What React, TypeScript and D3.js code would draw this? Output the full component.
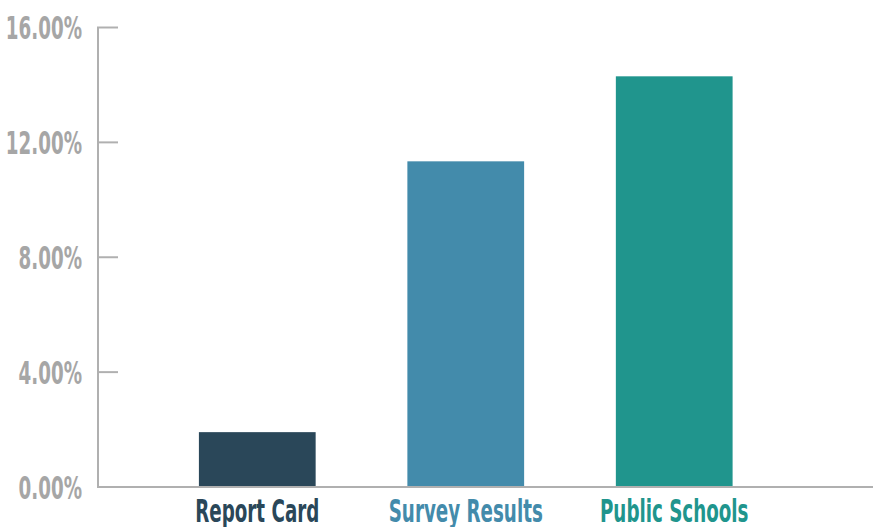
import React, { useRef, useEffect } from 'react';
import * as d3 from 'd3';

// values (percent)
const categories = ['Report Card', 'Survey Results', 'Public Schools'];
const values = [1.91, 11.34, 14.3];
const colors = ['#2a4759', '#438bab', '#20958d'];
const yTicks = [0, 4, 8, 12, 16];

const width = 873;
const height = 527;
const FONT = "'DejaVu Sans Condensed', 'DejaVu Sans', sans-serif";
// the reference uses a very narrow face, so squeeze the glyphs
const squeeze = 0.635;

const App = () => {
    const ref = useRef<SVGSVGElement | null>(null);

    useEffect(() => {
        if (!ref.current) return;
        const svg = d3.select(ref.current);
        svg.selectAll('*').remove();

        const x = d3.scaleBand<string>()
            .domain(categories)
            .range([98, 833.5])
            .paddingInner(0.44)
            .paddingOuter(0.484);

        const y = d3.scaleLinear().domain([0, 16]).range([487, 27.5]);

        // bars
        svg.selectAll('rect.bar')
            .data(values)
            .enter()
            .append('rect')
            .attr('class', 'bar')
            .attr('x', (_, i) => x(categories[i]) as number)
            .attr('y', d => y(d))
            .attr('width', x.bandwidth())
            .attr('height', d => y(0) - y(d))
            .style('fill', (_, i) => colors[i]);

        // y axis line + ticks
        const axisColor = '#b0b0b0';
        svg.append('line')
            .attr('x1', 98).attr('x2', 98)
            .attr('y1', y(16)).attr('y2', y(0))
            .attr('stroke', axisColor).attr('stroke-width', 2);

        svg.selectAll('line.tick')
            .data(yTicks.filter(t => t > 0))
            .enter()
            .append('line')
            .attr('class', 'tick')
            .attr('x1', 97).attr('x2', 118)
            .attr('y1', d => y(d)).attr('y2', d => y(d))
            .attr('stroke', axisColor).attr('stroke-width', 2);

        // baseline
        svg.append('line')
            .attr('x1', 97).attr('x2', width)
            .attr('y1', y(0)).attr('y2', y(0))
            .attr('stroke', axisColor).attr('stroke-width', 2);

        const squash = (sel: d3.Selection<SVGTextElement, any, any, any>) => {
            sel.each(function () {
                const w = this.getComputedTextLength();
                d3.select(this)
                    .attr('textLength', w * squeeze)
                    .attr('lengthAdjust', 'spacingAndGlyphs');
            });
        };

        // tick labels
        svg.selectAll('text.ylabel')
            .data(yTicks)
            .enter()
            .append('text')
            .attr('class', 'ylabel')
            .attr('x', 82)
            .attr('y', d => y(d))
            .attr('dy', '0.36em')
            .attr('text-anchor', 'end')
            .style('font-family', FONT)
            .style('font-weight', 'bold')
            .style('font-size', '32px')
            .style('fill', '#a6a6a6')
            .text(d => d3.format('.2f')(d) + '%')
            .call(squash);

        // category labels
        svg.selectAll('text.xlabel')
            .data(categories)
            .enter()
            .append('text')
            .attr('class', 'xlabel')
            .attr('x', d => (x(d) as number) + x.bandwidth() / 2)
            .attr('y', 522)
            .attr('text-anchor', 'middle')
            .style('font-family', FONT)
            .style('font-weight', 'bold')
            .style('font-size', '32px')
            .style('fill', (_, i) => colors[i])
            .text(d => d)
            .call(squash);
    }, []);

    return (
        <svg
            ref={ref}
            width={width}
            height={height}
            style={{ position: 'absolute', left: 0, top: 0, background: '#fff' }}
        />
    );
};

export default App;
